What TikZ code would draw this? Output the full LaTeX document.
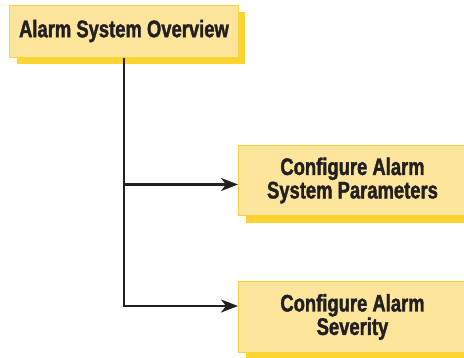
\documentclass[tikz,border=0pt]{standalone}
\usepackage{fontspec}
\setmainfont{Liberation Sans}[FakeStretch=0.77, BoldFeatures={FakeBold=1.6}]
\usepackage{xcolor}
\usetikzlibrary{arrows.meta, shadows}

\definecolor{boxfill}{HTML}{FDE59B}
\definecolor{boxline}{HTML}{F8D340}
\definecolor{boxshadow}{HTML}{FDD42F}
\definecolor{inkblack}{HTML}{231F20}

\begin{document}
\begin{tikzpicture}[
      x=1bp, y=-1bp,
      box/.style={draw=boxline, line width=1bp, fill=boxfill, align=center, inner sep=0pt,
        font=\fontsize{24}{23.5}\selectfont\bfseries, text=inkblack,
        drop shadow={shadow xshift=7bp, shadow yshift=-7bp, fill=boxshadow, opacity=1}},
      arr/.style={line width=2.4bp, draw=inkblack, -{Stealth[length=17bp, width=13bp, inset=5bp]}}
    ]
    \useasboundingbox (0,0) rectangle (464,357);
    \clip (0,0) rectangle (464,357);

    \node[box, minimum width=228bp, minimum height=52bp] (overview) at (124,31) {Alarm System Overview};
    \node[box, anchor=north west, minimum width=228bp, minimum height=70bp] (params) at (238,145) {Configure Alarm\\System Parameters};
    \node[box, anchor=north west, minimum width=228bp, minimum height=71bp] (severity) at (238,281) {Configure Alarm\\Severity};

    \path ([yshift=-4bp]params.west) coordinate (paramsin);
    \path ([yshift=11bp]severity.west) coordinate (severityin);

    \draw[arr] (overview.south) |- (severityin);
    \draw[arr] (overview.south |- paramsin) -- (paramsin);
  \end{tikzpicture}
\end{document}
